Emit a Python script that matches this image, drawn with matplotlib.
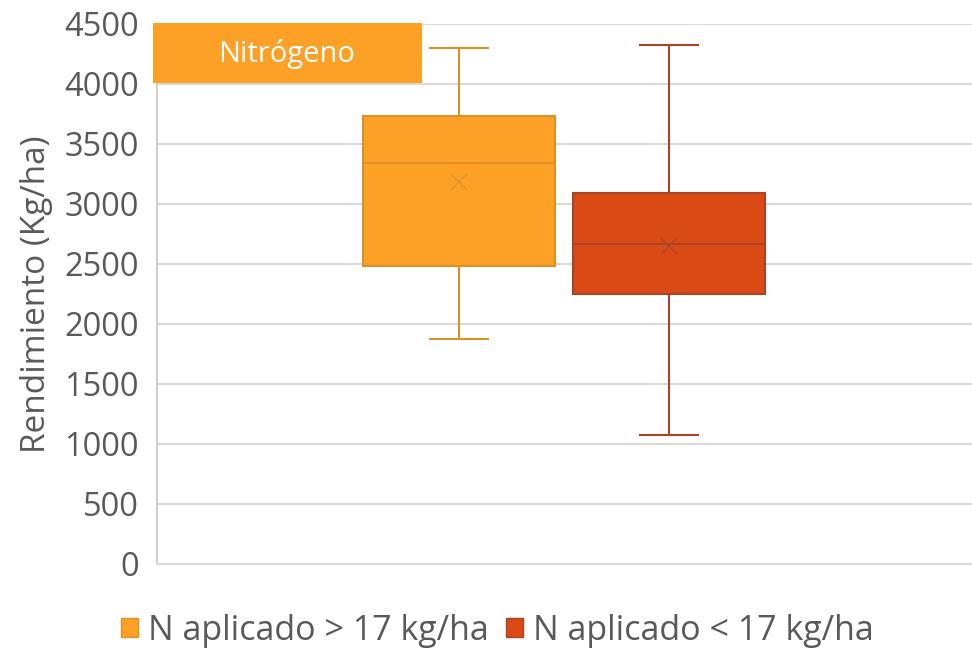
import matplotlib.pyplot as plt
from matplotlib.patches import Patch

plt.rcParams['font.family'] = ['Open Sans', 'DejaVu Sans']

# box statistics for each group (kg/ha)
groups = ['N aplicado > 17 kg/ha', 'N aplicado < 17 kg/ha']
whisk_low = [1875, 1075]
q1 = [2483, 2250]
median = [3342, 2667]
mean = [3183, 2650]
q3 = [3733, 3092]
whisk_high = [4300, 4325]

fill_colors = ['#FCA026', '#D94A14']
edge_colors = ['#D9912A', '#A8442A']
yticks = list(range(0, 5000, 500))

text_gray = '#595959'

fig = plt.figure(figsize=(9.72, 6.5), dpi=100)
ax = fig.add_axes([157 / 972, 86 / 650, 815 / 972, 540 / 650])

positions = [0.3706, 0.628]
for i in range(len(groups)):
    stats = [{
        'med': median[i], 'q1': q1[i], 'q3': q3[i],
        'whislo': whisk_low[i], 'whishi': whisk_high[i],
        'mean': mean[i], 'fliers': [], 'label': groups[i],
    }]
    ax.bxp(stats, positions=[positions[i]], widths=0.2356, patch_artist=True,
           showmeans=True, manage_ticks=False,
           boxprops=dict(facecolor=fill_colors[i], edgecolor=edge_colors[i], linewidth=1.5),
           medianprops=dict(color=edge_colors[i], linewidth=1.3),
           whiskerprops=dict(color=edge_colors[i], linewidth=1.5),
           capprops=dict(color=edge_colors[i], linewidth=1.5),
           capwidths=0.071,
           meanprops=dict(marker='x', markeredgecolor=edge_colors[i], markersize=11,
                          markeredgewidth=1.1, alpha=0.8))

ax.set_xlim(0, 1)
ax.set_ylim(0, 4500)
ax.set_yticks(yticks)
ax.set_xticks([])
ax.tick_params(axis='y', length=0, pad=13, labelsize=23.5, labelcolor=text_gray)
ax.yaxis.grid(True, color='#D9D9D9', linewidth=1.5)
ax.set_axisbelow(True)
for side in ['top', 'right']:
    ax.spines[side].set_visible(False)
ax.spines['left'].set_color('#D0D0D0')
ax.spines['bottom'].set_color('#D9D9D9')
ax.spines['left'].set_linewidth(1.5)
ax.spines['bottom'].set_linewidth(1.5)

ax.set_ylabel('Rendimiento (Kg/ha)', fontsize=24, color=text_gray, labelpad=8)

# title tag in the upper-left corner
fig.patches.append(plt.Rectangle((153 / 972, (650 - 83) / 650), 269 / 972, 60 / 650,
                                 transform=fig.transFigure, facecolor='#FCA026',
                                 edgecolor='none', zorder=5))
fig.text(287 / 972, (650 - 54) / 650, 'Nitrógeno', color='white', fontsize=21,
         ha='center', va='center', zorder=6)

handles = [Patch(facecolor=fill_colors[i], edgecolor=edge_colors[i]) for i in range(len(groups))]
fig.legend(handles, groups, loc='center', bbox_to_anchor=(0.512, 0.03), ncol=2,
           frameon=False, fontsize=24.5, labelcolor=text_gray, handlelength=0.5,
           handleheight=0.5, handletextpad=0.3, columnspacing=0.5)

fig.savefig('out.png', dpi=100)
